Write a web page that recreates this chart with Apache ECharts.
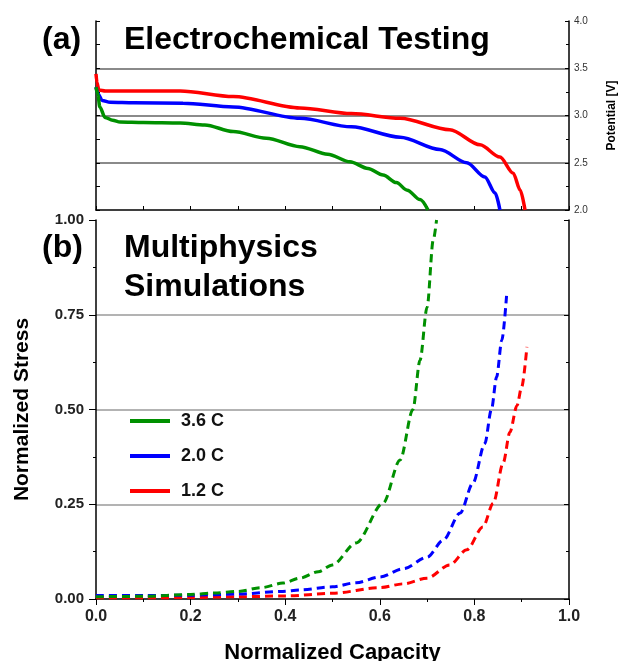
<!DOCTYPE html>
<html lang="en">
<head>
    <meta charset="UTF-8">
    <title>Electrochemical Testing / Multiphysics Simulations</title>
    <script src="https://cdnjs.cloudflare.com/ajax/libs/echarts/6.0.0/echarts.min.js"></script>
    <style>
        body { margin: 0; background: #fff; }
    </style>
</head>
<body>
    <div id="main" style="width: 618px;height:661px;"></div>
    <script>
        // rates (legend names)
        const rates = ['3.6 C', '2.0 C', '1.2 C'];
        const colors = ['#009000', '#0000ff', '#ff0000'];

        // (a) potential [V] vs normalized capacity
        const capTop36 = [0, 0.004, 0.008, 0.019, 0.035, 0.051, 0.1, 0.178, 0.23, 0.29, 0.36, 0.431, 0.49, 0.537, 0.575, 0.607, 0.635, 0.658, 0.685, 0.702];
        const volt36 = [3.30, 3.22, 3.09, 2.98, 2.95, 2.93, 2.925, 2.92, 2.90, 2.83, 2.76, 2.67, 2.59, 2.51, 2.44, 2.37, 2.29, 2.21, 2.11, 2.0];
        const capTop20 = [0, 0.004, 0.013, 0.03, 0.08, 0.184, 0.29, 0.431, 0.54, 0.643, 0.727, 0.784, 0.822, 0.844, 0.854];
        const volt20 = [3.30, 3.23, 3.16, 3.14, 3.135, 3.13, 3.09, 2.97, 2.88, 2.77, 2.64, 2.50, 2.35, 2.18, 2.0];
        const capTop12 = [0, 0.002, 0.006, 0.02, 0.08, 0.178, 0.29, 0.431, 0.54, 0.643, 0.748, 0.812, 0.854, 0.882, 0.897, 0.907];
        const volt12 = [3.44, 3.35, 3.27, 3.26, 3.26, 3.26, 3.20, 3.08, 3.02, 2.97, 2.85, 2.69, 2.56, 2.39, 2.21, 2.0];

        // (b) normalized stress vs normalized capacity
        const capBot36 = [0, 0.1, 0.2, 0.25, 0.3, 0.35, 0.395, 0.431, 0.47, 0.5, 0.55, 0.607, 0.643, 0.67, 0.685, 0.70, 0.713, 0.72];
        const stress36 = [0.006, 0.007, 0.012, 0.016, 0.02, 0.03, 0.042, 0.055, 0.072, 0.09, 0.148, 0.253, 0.367, 0.50, 0.63, 0.77, 0.947, 1.0];
        const capBot20 = [0, 0.1, 0.2, 0.3, 0.395, 0.431, 0.5, 0.55, 0.6, 0.65, 0.70, 0.734, 0.77, 0.797, 0.822, 0.836, 0.847, 0.858, 0.868];
        const stress20 = [0.009, 0.009, 0.01, 0.013, 0.02, 0.024, 0.032, 0.043, 0.058, 0.08, 0.11, 0.155, 0.227, 0.306, 0.41, 0.50, 0.586, 0.683, 0.80];
        const capBot12 = [0, 0.1, 0.2, 0.3, 0.4, 0.5, 0.6, 0.65, 0.70, 0.748, 0.784, 0.818, 0.84, 0.861, 0.875, 0.89, 0.90, 0.911];
        const stress12 = [0.003, 0.003, 0.004, 0.006, 0.008, 0.015, 0.03, 0.04, 0.055, 0.09, 0.13, 0.19, 0.253, 0.36, 0.44, 0.51, 0.56, 0.665];

        // tick labels
        const capTicks = ['0.0', '0.2', '0.4', '0.6', '0.8', '1.0'];
        const stressTicks = ['0.00', '0.25', '0.50', '0.75', '1.00'];
        const voltTicks = ['2.0', '2.5', '3.0', '3.5', '4.0'];

        const pairs = (xs, ys) => xs.map((x, i) => [x, ys[i]]);
        const FONT = '"Liberation Sans", Arial, sans-serif';

        const chart = echarts.init(document.getElementById('main'));

        const topData = [pairs(capTop36, volt36), pairs(capTop20, volt20), pairs(capTop12, volt12)];
        const botData = [pairs(capBot36, stress36), pairs(capBot20, stress20), pairs(capBot12, stress12)];

        let series = [];
        rates.forEach((r, i) => {
            series.push({
                name: r, type: 'line', xAxisIndex: 0, yAxisIndex: 1,
                data: topData[i], symbol: 'none', smooth: 0.3, smoothMonotone: 'x',
                lineStyle: { color: colors[i], width: 3.5 }, itemStyle: { color: colors[i] },
                z: 3 - i
            });
        });
        rates.forEach((r, i) => {
            series.push({
                name: r, type: 'line', xAxisIndex: 1, yAxisIndex: 2,
                data: botData[i], symbol: 'none', smooth: 0.3, smoothMonotone: 'x',
                lineStyle: { color: colors[i], width: 3, type: [8, 5] }, itemStyle: { color: colors[i] },
                z: 3 - i
            });
        });

        const blackLine = { show: true, lineStyle: { color: '#000', width: 1.5 } };

        let option = {
            animation: false,
            textStyle: { fontFamily: FONT },
            grid: [
                { left: 96, right: 49, top: 21, height: 189, outerBoundsMode: 'none' },
                { left: 96, right: 49, top: 220, height: 379, outerBoundsMode: 'none' }
            ],
            legend: {
                data: rates, orient: 'vertical', left: 130, top: 412, padding: 0,
                icon: 'rect', itemWidth: 40, itemHeight: 4, itemGap: 17,
                textStyle: { fontFamily: FONT, fontWeight: 'bold', fontSize: 18, color: '#111', padding: [0, 0, 0, 6] }
            },
            xAxis: [
                {
                    gridIndex: 0, type: 'value', min: 0, max: 1, interval: 0.1,
                    axisLine: { show: true, onZero: false, lineStyle: { color: '#000', width: 1.5 } },
                    axisTick: { show: true, inside: true, length: 4, lineStyle: { color: '#000' } },
                    axisLabel: { show: false }, splitLine: { show: false }
                },
                {
                    gridIndex: 1, type: 'value', min: 0, max: 1, interval: 0.2,
                    name: 'Normalized Capacity', nameLocation: 'middle', nameGap: 43,
                    nameTextStyle: { fontFamily: FONT, fontWeight: 'bold', fontSize: 22, color: '#000' },
                    axisLine: { show: true, onZero: false, lineStyle: { color: '#000', width: 1.5 } },
                    axisTick: { show: true, length: 6, lineStyle: { color: '#000' } },
                    minorTick: { show: true, splitNumber: 2, length: 3, lineStyle: { color: '#000' } },
                    axisLabel: {
                        fontFamily: FONT, fontWeight: 'bold', fontSize: 16, color: '#222', margin: 10,
                        formatter: v => capTicks[Math.round(v / 0.2)]
                    },
                    splitLine: { show: false }
                }
            ],
            yAxis: [
                {
                    gridIndex: 0, type: 'value', position: 'left', min: 2, max: 4, interval: 0.25,
                    axisLine: blackLine,
                    axisTick: { show: true, inside: true, length: 4, lineStyle: { color: '#000' } },
                    axisLabel: { show: false }, splitLine: { show: false }
                },
                {
                    gridIndex: 0, type: 'value', position: 'right', min: 2, max: 4, interval: 0.5,
                    name: 'Potential [V]', nameLocation: 'middle', nameGap: 37, nameRotate: 90,
                    nameTextStyle: { fontFamily: FONT, fontWeight: 'bold', fontSize: 12, color: '#000' },
                    axisLine: blackLine,
                    axisTick: { show: true, inside: true, length: 4, lineStyle: { color: '#000' } },
                    minorTick: { show: true, splitNumber: 2, length: 3, lineStyle: { color: '#000' } },
                    axisLabel: {
                        fontFamily: FONT, fontSize: 10, color: '#333', margin: 5,
                        formatter: v => voltTicks[Math.round((v - 2) / 0.5)]
                    },
                    splitLine: { show: true, showMinLine: false, showMaxLine: false, lineStyle: { color: '#8a8a8a', width: 2 } }
                },
                {
                    gridIndex: 1, type: 'value', position: 'left', min: 0, max: 1, interval: 0.25,
                    name: 'Normalized Stress', nameLocation: 'middle', nameGap: 63,
                    nameTextStyle: { fontFamily: FONT, fontWeight: 'bold', fontSize: 21, color: '#000' },
                    axisLine: blackLine,
                    axisTick: { show: true, length: 7, lineStyle: { color: '#000' } },
                    minorTick: { show: true, splitNumber: 2, length: 3, lineStyle: { color: '#000' } },
                    axisLabel: {
                        fontFamily: FONT, fontWeight: 'bold', fontSize: 15, color: '#222', margin: 12,
                        formatter: v => stressTicks[Math.round(v / 0.25)]
                    },
                    splitLine: { show: true, showMinLine: false, showMaxLine: false, lineStyle: { color: '#9a9a9a', width: 1.5 } }
                },
                {
                    gridIndex: 1, type: 'value', position: 'right', min: 0, max: 1, interval: 0.25,
                    axisLine: blackLine,
                    axisTick: { show: true, inside: true, length: 5, lineStyle: { color: '#000' } },
                    minorTick: { show: true, splitNumber: 2, length: 3, lineStyle: { color: '#000' } },
                    axisLabel: { show: false }, splitLine: { show: false }
                }
            ],
            graphic: [
                { type: 'text', left: 42, top: 24, style: { text: '(a)', font: 'bold 32px ' + FONT, fill: '#000' } },
                { type: 'text', left: 124, top: 24, style: { text: 'Electrochemical Testing', font: 'bold 32px ' + FONT, fill: '#000' } },
                { type: 'text', left: 42, top: 232, style: { text: '(b)', font: 'bold 32px ' + FONT, fill: '#000' } },
                { type: 'text', left: 124, top: 232, style: { text: 'Multiphysics', font: 'bold 32px ' + FONT, fill: '#000' } },
                { type: 'text', left: 124, top: 271, style: { text: 'Simulations', font: 'bold 32px ' + FONT, fill: '#000' } }
            ],
            series: series
        };

        chart.setOption(option);
    </script>
</body>
</html>
